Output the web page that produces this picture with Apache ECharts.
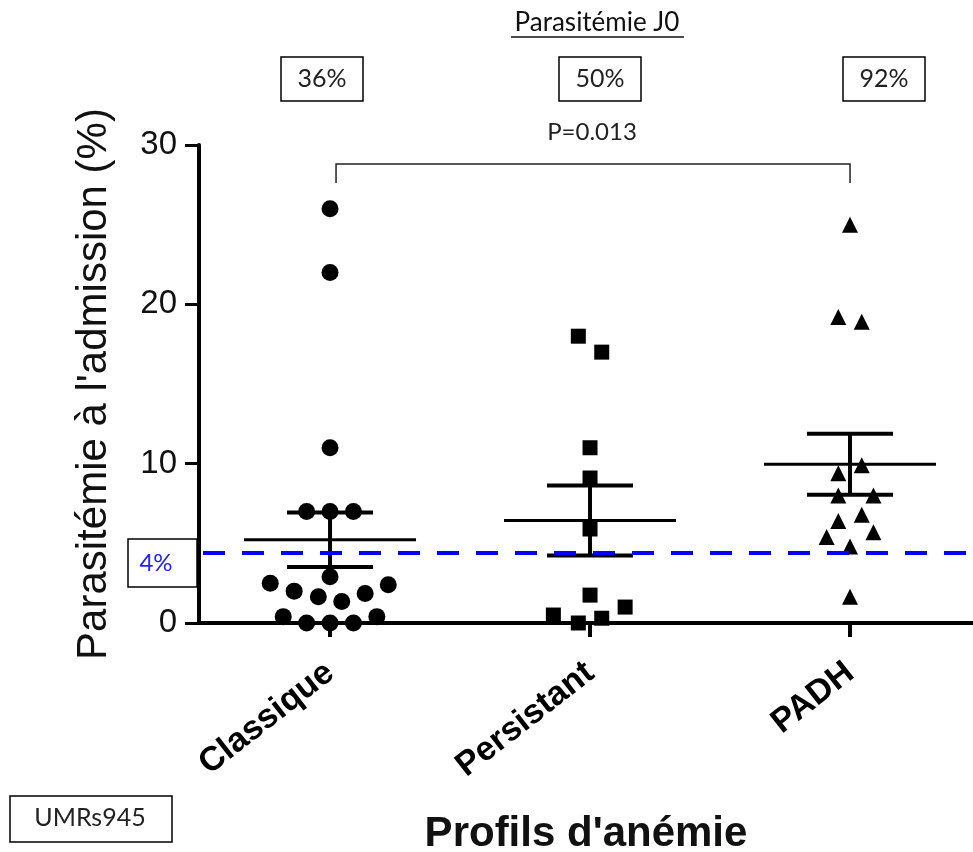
<!DOCTYPE html>
<html><head><meta charset="utf-8">
<script src="https://cdn.jsdelivr.net/npm/echarts@6/dist/echarts.min.js"></script>
<style>html,body{margin:0;padding:0;background:#fff}#c{width:973px;height:852px}</style>
</head><body><div id="c"></div>
<script>
// ---- data ----
const categories = ['Classique', 'Persistant', 'PADH'];
const classiqueValues = [26, 22, 11, 7, 7, 7, 2.9, 2.5, 2.0, 1.65, 1.35, 1.85, 2.4, 0.4, 0.4, 0, 0, 0];
const classiqueSpread = [0, 0, 0, -0.09, 0, 0.09, 0, -0.23, -0.138, -0.045, 0.045, 0.135, 0.224, -0.18, 0.18, -0.09, 0, 0.09];
const persistantValues = [18, 17, 11, 9.1, 5.9, 1.75, 1.0, 0.5, 0, 0.3];
const persistantSpread = [-0.045, 0.045, 0, 0, 0, 0, 0.135, -0.141, -0.045, 0.045];
const padhValues = [25, 19.2, 18.9, 9.9, 9.4, 8.0, 8.0, 6.8, 6.4, 5.4, 5.7, 4.8, 1.65];
const padhSpread = [0, -0.045, 0.045, 0.045, -0.045, -0.045, 0.09, 0.045, -0.045, -0.09, 0.09, 0, 0];
const groupMeans = [5.22, 6.43, 9.96];
const groupSem = [1.71, 2.2, 1.91];
const positiveRates = ['36%', '50%', '92%'];
const thresholdValue = 4.4;
const thresholdLabel = '4%';
const pValueText = 'P=0.013';
const yTickValues = [0, 10, 20, 30];
const chartTitle = 'Parasitémie J0';
const yAxisTitle = "Parasitémie à l'admission (%)";
const xAxisTitle = "Profils d'anémie";
const footnote = 'UMRs945';

// ---- build ----
function pts(vals, spread, idx) { return vals.map((v, i) => [idx + spread[i], v]); }
const sumData = categories.map((c, i) => [i, groupMeans[i], groupSem[i]]);
const chart = echarts.init(document.getElementById('c'), null, { renderer: 'canvas' });
const AX = 'Liberation Sans, Arial, sans-serif';
const CAL = 'Lato, Open Sans, sans-serif';
const markStyle = { color: '#000', opacity: 1 };

const option = {
  animation: false,
  backgroundColor: '#fff',
  grid: { left: 199, right: 0, top: 145, bottom: 229, containLabel: false, outerBoundsMode: 'none' },
  xAxis: {
    type: 'value', min: -0.504, max: 2.473,
    splitLine: { show: false },
    axisLine: { show: true, onZero: false, lineStyle: { color: '#000', width: 4 } },
    axisTick: { show: true, length: 14, customValues: [0, 1, 2], lineStyle: { color: '#000', width: 4 } },
    axisLabel: {
      customValues: [0, 1, 2], rotate: 38, margin: 46,
      formatter: v => categories[Math.round(v)] || '',
      fontFamily: AX, fontWeight: 'bold', fontSize: 34, color: '#000'
    },
    name: xAxisTitle, nameLocation: 'middle', nameGap: 190,
    nameTextStyle: { fontFamily: AX, fontWeight: 'bold', fontSize: 42, color: '#111' }
  },
  yAxis: {
    type: 'value', min: yTickValues[0], max: yTickValues[yTickValues.length - 1], interval: 10,
    splitLine: { show: false },
    axisLine: { show: true, onZero: false, lineStyle: { color: '#000', width: 4 } },
    axisTick: { show: true, length: 14, lineStyle: { color: '#000', width: 3 } },
    axisLabel: { fontFamily: AX, fontSize: 33, color: '#111', margin: 22 },
    name: yAxisTitle, nameLocation: 'middle', nameGap: 84, nameRotate: 90,
    nameTextStyle: { fontFamily: AX, fontSize: 42, color: '#111' }
  },
  series: [
    {
      type: 'custom', z: 3, data: sumData,
      renderItem: function (params, api) {
        const x = api.value(0), m = api.value(1), s = api.value(2);
        const c = api.coord([x, m]);
        const top = api.coord([x, m + s])[1], bot = api.coord([x, m - s])[1];
        const st = { stroke: '#000', lineWidth: 4 };
        return {
          type: 'group', children: [
            { type: 'line', shape: { x1: c[0] - 86, y1: c[1], x2: c[0] + 86, y2: c[1] }, style: { stroke: '#000', lineWidth: 3 } },
            { type: 'line', shape: { x1: c[0], y1: top, x2: c[0], y2: bot }, style: st },
            { type: 'line', shape: { x1: c[0] - 43, y1: top, x2: c[0] + 43, y2: top }, style: st },
            { type: 'line', shape: { x1: c[0] - 43, y1: bot, x2: c[0] + 43, y2: bot }, style: st }
          ]
        };
      }
    },
    { type: 'scatter', z: 2, symbol: 'circle', symbolSize: 17, itemStyle: markStyle, data: pts(classiqueValues, classiqueSpread, 0) },
    { type: 'scatter', z: 2, symbol: 'rect', symbolSize: 15, itemStyle: markStyle, data: pts(persistantValues, persistantSpread, 1) },
    {
      type: 'scatter', z: 4, symbol: 'triangle', symbolSize: 16, itemStyle: markStyle, data: pts(padhValues, padhSpread, 2),
      markLine: {
        silent: true, symbol: 'none', label: { show: false },
        lineStyle: { color: '#0000ff', type: [22, 17], dashOffset: 35, width: 4, opacity: 1 },
        data: [{ yAxis: thresholdValue }]
      }
    }
  ]
};
chart.setOption(option);

// annotation graphics
const c0 = chart.convertToPixel({ gridIndex: 0 }, [0, 30]);
const c2 = chart.convertToPixel({ gridIndex: 0 }, [2, 30]);
const thrY = chart.convertToPixel({ gridIndex: 0 }, [0, thresholdValue])[1];
const boxCenters = [322, 600, 884];
const g = [];
g.push({ type: 'text', x: 597, y: 23, style: { text: chartTitle, font: '26px ' + CAL, fill: '#111', align: 'center', verticalAlign: 'middle' } });
g.push({ type: 'line', shape: { x1: 511, y1: 37, x2: 684, y2: 37 }, style: { stroke: '#111', lineWidth: 1.5 } });
positiveRates.forEach((t, i) => {
  g.push({ type: 'rect', shape: { x: boxCenters[i] - 41, y: 57, width: 82, height: 44 }, style: { fill: '#fff', stroke: '#000', lineWidth: 1.5 } });
  g.push({ type: 'text', x: boxCenters[i], y: 79, style: { text: t, font: '25px ' + CAL, fill: '#222', align: 'center', verticalAlign: 'middle' } });
});
g.push({ type: 'text', x: 592, y: 132, style: { text: pValueText, font: '24px ' + CAL, fill: '#222', align: 'center', verticalAlign: 'middle' } });
g.push({ type: 'polyline', shape: { points: [[c0[0] + 6, 183], [c0[0] + 6, 164], [c2[0], 164], [c2[0], 183]] }, style: { stroke: '#222', lineWidth: 1.5, fill: null } });
g.push({ type: 'rect', shape: { x: 128, y: thrY - 14, width: 69, height: 48 }, style: { fill: '#fff', stroke: '#000', lineWidth: 1.5 } });
g.push({ type: 'text', x: 156, y: thrY + 10, style: { text: thresholdLabel, font: '24px ' + CAL, fill: '#2222ff', align: 'center', verticalAlign: 'middle' } });
g.push({ type: 'rect', shape: { x: 10, y: 796, width: 162, height: 46 }, style: { fill: '#fff', stroke: '#000', lineWidth: 1.5 } });
g.push({ type: 'text', x: 90, y: 818, style: { text: footnote, font: '25px ' + CAL, fill: '#222', align: 'center', verticalAlign: 'middle' } });
chart.setOption({ graphic: g });
</script>
</body></html>
